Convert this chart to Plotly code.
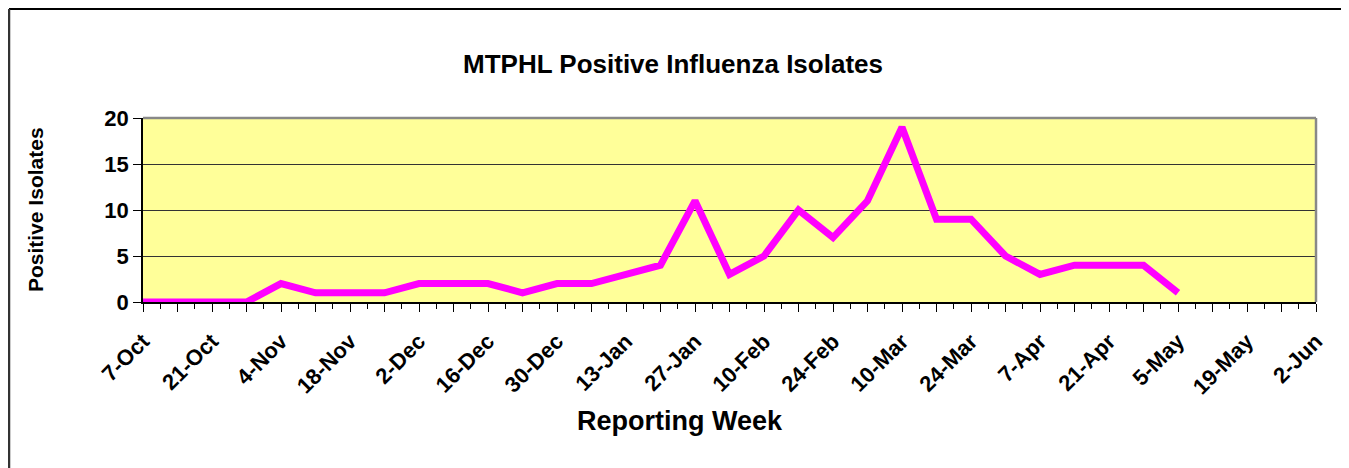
import plotly.graph_objects as go

weeks = ["7-Oct", "14-Oct", "21-Oct", "28-Oct", "4-Nov", "11-Nov", "18-Nov", "25-Nov",
         "2-Dec", "9-Dec", "16-Dec", "23-Dec", "30-Dec", "6-Jan", "13-Jan", "20-Jan",
         "27-Jan", "3-Feb", "10-Feb", "17-Feb", "24-Feb", "3-Mar", "10-Mar", "17-Mar",
         "24-Mar", "31-Mar", "7-Apr", "14-Apr", "21-Apr", "28-Apr", "5-May", "12-May",
         "19-May", "26-May", "2-Jun"]
isolates = [0, 0, 0, 0, 2, 1, 1, 1, 2, 2, 2, 1, 2, 2, 3, 4, 11, 3, 5, 10, 7, 11, 19, 9,
            9, 5, 3, 4, 4, 4, 1, None, None, None, None]
y_ticks = [0, 5, 10, 15, 20]

# the page body has an 8px margin, so the figure starts at (8, 8)
OFF = 8
W, H = 1349 - OFF, 468 - OFF
L, R, T, B = 143, 1316, 118, 302  # target plot-area pixels in the window

x_idx = list(range(len(weeks)))
tick_text = [f"<b>{w}</b>" if i % 2 == 0 else "" for i, w in enumerate(weeks)]

fig = go.Figure()
fig.add_trace(go.Scatter(
    x=x_idx, y=isolates, mode="lines",
    line=dict(color="#FF00FF", width=7),
    connectgaps=False, hoverinfo="x+y", showlegend=False,
))

def px_x(p):
    return (p - L) / (R - L)

def px_y(p):
    return (B - p) / (B - T)

font = "Liberation Sans, Arial, sans-serif"

fig.update_layout(
    width=W, height=H,
    margin=dict(l=L - OFF, r=1349 - R, t=T - OFF, b=468 - B, pad=0),
    paper_bgcolor="white",
    plot_bgcolor="#FFFF99",
    font=dict(family=font, color="black"),
    title=dict(text="<b>MTPHL Positive Influenza Isolates</b>",
               x=(673 - OFF) / W, xref="container", y=1 - (64 - OFF) / H, yref="container",
               xanchor="center", yanchor="middle",
               font=dict(size=26, family=font, color="black")),
    xaxis=dict(
        range=[0, len(weeks) - 1],
        tickmode="array", tickvals=x_idx, ticktext=tick_text,
        tickangle=-45, ticks="outside", ticklen=8, tickwidth=1, tickcolor="black",
        ticklabelstandoff=8,
        tickfont=dict(size=22, family=font, color="black"),
        showline=True, linecolor="black", linewidth=1.5,
        showgrid=False, zeroline=False,
        minor=dict(dtick=0.5, tick0=0, ticks="outside", ticklen=5, tickcolor="black", showgrid=False),
    ),
    yaxis=dict(
        range=[0, 20],
        tickmode="array", tickvals=y_ticks, ticktext=[f"<b>{v}</b>" for v in y_ticks],
        ticks="outside", ticklen=8, tickwidth=1, tickcolor="black",
        tickfont=dict(size=22, family=font, color="black"),
        showline=True, linecolor="black", linewidth=1.5,
        showgrid=True, gridcolor="#333333", gridwidth=1,
        zeroline=False,
    ),
)

# gray plot-area frame on top and right
fig.add_shape(type="line", xref="paper", yref="paper", x0=0, x1=1, y0=1, y1=1,
              line=dict(color="#888888", width=2.5))
fig.add_shape(type="line", xref="paper", yref="paper", x0=1, x1=1, y0=0, y1=1,
              line=dict(color="#888888", width=2.5))

# outer chart frame (left, top, right)
fig.add_shape(type="line", xref="paper", yref="paper",
              x0=px_x(9), x1=px_x(1347), y0=px_y(9), y1=px_y(9),
              line=dict(color="black", width=2))
fig.add_shape(type="line", xref="paper", yref="paper",
              x0=px_x(9), x1=px_x(9), y0=px_y(9), y1=px_y(470),
              line=dict(color="#333333", width=2.5))
fig.add_shape(type="line", xref="paper", yref="paper",
              x0=px_x(1347), x1=px_x(1347), y0=px_y(9), y1=px_y(470),
              line=dict(color="black", width=2))

# axis titles
fig.add_annotation(text="<b>Positive Isolates</b>", xref="paper", yref="paper",
                   x=px_x(35), y=px_y(210), textangle=-90, showarrow=False,
                   xanchor="center", yanchor="middle",
                   font=dict(size=21, family=font, color="black"))
fig.add_annotation(text="<b>Reporting Week</b>", xref="paper", yref="paper",
                   x=px_x(680), y=px_y(421), showarrow=False,
                   xanchor="center", yanchor="middle",
                   font=dict(size=27, family=font, color="black"))

fig.write_html("out.html")
